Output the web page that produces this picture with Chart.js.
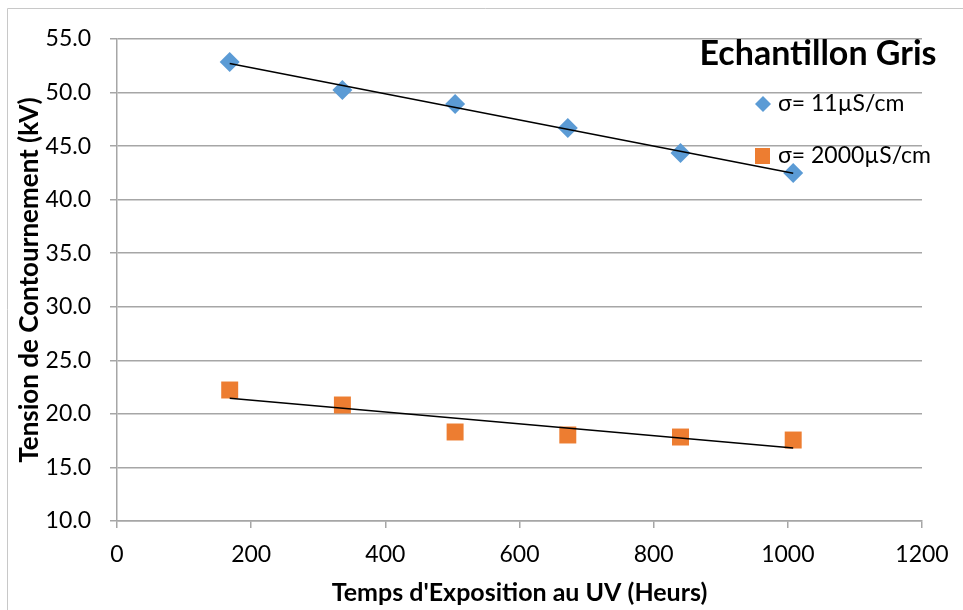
<!DOCTYPE html>
<html>
<head>
<meta charset="utf-8">
<script src="https://cdn.jsdelivr.net/npm/chart.js@4/dist/chart.umd.min.js"></script>
<style>
  html, body { margin: 0; padding: 0; background: #fff; }
  #wrap { position: relative; width: 963px; height: 610px; }
</style>
</head>
<body>
<div id="wrap"><canvas id="c" width="963" height="610"></canvas></div>
<script>
// ---- Data ----
const hours = [168, 336, 504, 672, 840, 1008];
const sigma11 = [52.85, 50.24, 48.93, 46.69, 44.36, 42.49];
const sigma2000 = [22.23, 20.83, 18.31, 18.03, 17.84, 17.56];
const seriesLabels = ['σ= 11µS/cm', 'σ= 2000µS/cm'];
const chartTitle = 'Echantillon Gris';
const xAxisTitle = "Temps d'Exposition au UV (Heurs)";
const yAxisTitle = 'Tension de Contournement (kV)';

const BLUE = '#5B9BD5', ORANGE = '#ED7D31';
const FONT = 'Lato, "Open Sans", sans-serif';

function linFit(xs, ys) {
  const n = xs.length;
  const mx = xs.reduce((a, b) => a + b, 0) / n;
  const my = ys.reduce((a, b) => a + b, 0) / n;
  let sxy = 0, sxx = 0;
  for (let i = 0; i < n; i++) { sxy += (xs[i] - mx) * (ys[i] - my); sxx += (xs[i] - mx) ** 2; }
  const m = sxy / sxx, b = my - m * mx;
  return [{ x: xs[0], y: m * xs[0] + b }, { x: xs[n - 1], y: m * xs[n - 1] + b }];
}
const pts = (xs, ys) => xs.map((x, i) => ({ x, y: ys[i] }));

const overlay = {
  id: 'overlay',
  afterDraw(chart) {
    const ctx = chart.ctx;
    ctx.save();
    // outer border
    ctx.strokeStyle = '#c8c8c8';
    ctx.lineWidth = 1;
    ctx.beginPath();
    ctx.moveTo(7.5, 610); ctx.lineTo(7.5, 8.5); ctx.lineTo(963, 8.5);
    ctx.stroke();
    // title
    ctx.fillStyle = '#000';
    ctx.font = 'bold 34px ' + FONT;
    ctx.textAlign = 'center';
    ctx.textBaseline = 'middle';
    ctx.fillText(chartTitle, 818, 54);
    // legend
    ctx.font = '23px ' + FONT;
    ctx.textAlign = 'left';
    ctx.fillStyle = BLUE;
    const dx = 763, dy = 104, r = 8;
    ctx.beginPath();
    ctx.moveTo(dx, dy - r); ctx.lineTo(dx + r, dy); ctx.lineTo(dx, dy + r); ctx.lineTo(dx - r, dy); ctx.closePath();
    ctx.fill();
    ctx.fillStyle = ORANGE;
    ctx.fillRect(755, 148, 15, 16);
    ctx.fillStyle = '#000';
    ctx.fillText(seriesLabels[0], 778, 104);
    ctx.fillText(seriesLabels[1], 778, 156);
    ctx.restore();
  }
};

new Chart(document.getElementById('c'), {
  type: 'scatter',
  data: {
    datasets: [
      { label: seriesLabels[0], data: pts(hours, sigma11), pointStyle: 'rectRot', pointRadius: 10, pointHoverRadius: 10,
        backgroundColor: BLUE, borderColor: BLUE, borderWidth: 0, order: 2 },
      { label: seriesLabels[1], data: pts(hours, sigma2000), pointStyle: 'rect', pointRadius: 12, pointHoverRadius: 12,
        backgroundColor: ORANGE, borderColor: ORANGE, borderWidth: 0, order: 2 },
      { label: 'trend1', data: linFit(hours, sigma11), showLine: true, pointRadius: 0, borderColor: '#000', borderWidth: 1.5, order: 1 },
      { label: 'trend2', data: linFit(hours, sigma2000), showLine: true, pointRadius: 0, borderColor: '#000', borderWidth: 1.5, order: 1 }
    ]
  },
  options: {
    responsive: false,
    animation: false,
    layout: { padding: { left: 14, top: 39, right: 41, bottom: 2 } },
    plugins: { legend: { display: false }, tooltip: { enabled: false }, title: { display: false } },
    scales: {
      x: {
        type: 'linear', min: 0, max: 1200,
        ticks: { stepSize: 200, color: '#000', font: { family: FONT, size: 23 }, padding: 13,
                 callback: v => String(v) },
        grid: { drawOnChartArea: false, drawTicks: true, tickLength: 7, color: '#a6a6a6', lineWidth: 1.5 },
        border: { color: '#a6a6a6', width: 1.5 },
        title: { display: true, text: xAxisTitle, color: '#000', font: { family: FONT, size: 25, weight: 'bold' }, padding: { top: 2, bottom: 0 } },
        afterFit(s) { s.height = 610 - 521 - 2; }
      },
      y: {
        type: 'linear', min: 10, max: 55,
        ticks: { stepSize: 5, color: '#000', font: { family: FONT, size: 23 }, padding: 19,
                 callback: v => v.toFixed(1) },
        grid: { drawOnChartArea: true, drawTicks: true, tickLength: 7, color: '#a6a6a6', lineWidth: 1.5 },
        border: { color: '#a6a6a6', width: 1.5 },
        title: { display: true, text: yAxisTitle, color: '#000', font: { family: FONT, size: 26, weight: 'bold' }, padding: { top: 0, bottom: 0 } },
        afterFit(s) { s.width = 117 - 14; }
      }
    }
  },
  plugins: [overlay]
});
</script>
</body>
</html>
